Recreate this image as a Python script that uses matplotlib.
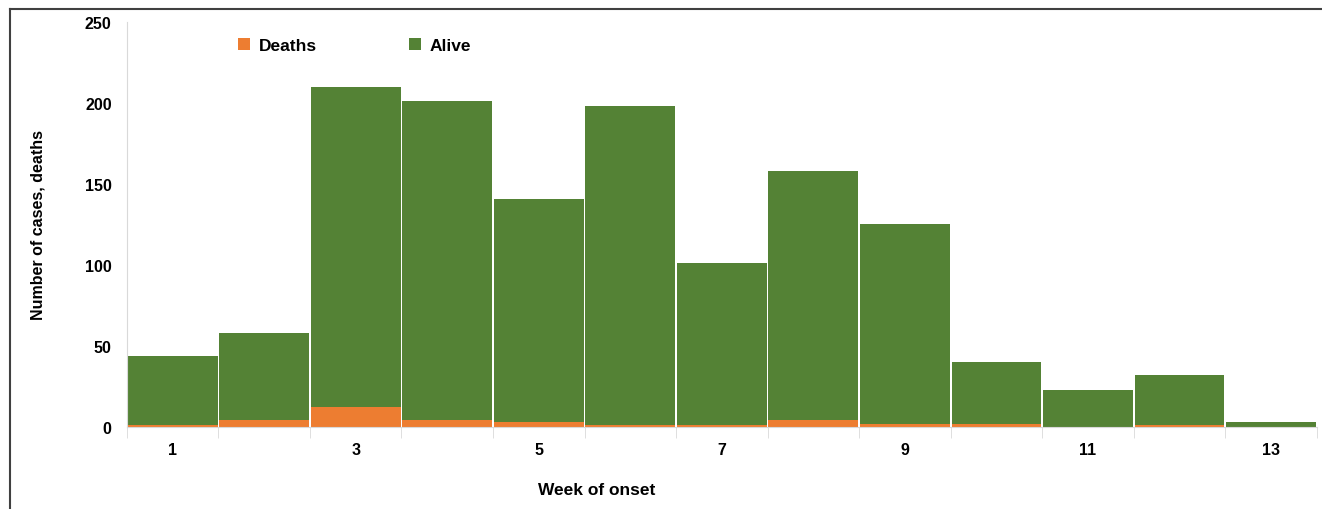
import matplotlib.pyplot as plt
import numpy as np
from matplotlib.lines import Line2D

plt.rcParams['font.family'] = ['Liberation Sans', 'DejaVu Sans']

# Datos por semana
semanas = np.arange(1, 14)
muertes = [1, 4, 12, 4, 3, 1, 1, 4, 2, 2, 0, 1, 0]
total = [44, 58, 210, 201, 141, 198, 101, 158, 125, 40, 23, 32, 3]
vivos = [t - m for t, m in zip(total, muertes)]

naranja = '#ED7D31'
verde = '#548235'

fig = plt.figure(figsize=(13.22, 5.10), dpi=100)
ax = fig.add_axes([0.096, 0.161, 0.9, 0.794])

ax.bar(semanas, muertes, width=0.98, color=naranja, linewidth=0, label='Deaths')
ax.bar(semanas, vivos, bottom=muertes, width=0.98, color=verde, linewidth=0, label='Alive')

ax.set_xlim(0.5, 13.5)
ax.set_ylim(0, 250)
ax.set_yticks(np.arange(0, 251, 50))
ax.set_xticks(np.arange(1, 14, 2))
ax.set_xticks(np.arange(0.5, 13.6, 1), minor=True)
ax.tick_params(axis='both', which='major', length=0, labelsize=11.5, pad=11)
ax.tick_params(axis='x', which='minor', length=8, color='#d9d9d9', direction='out')
for lab in ax.get_xticklabels() + ax.get_yticklabels():
    lab.set_fontweight('bold')

for s in ['top', 'right']:
    ax.spines[s].set_visible(False)
ax.spines['left'].set_color('#d9d9d9')
ax.spines['bottom'].set_color('#d9d9d9')

ax.set_xlabel('Week of onset', fontsize=12.5, fontweight='bold')
ax.xaxis.set_label_coords(0.395, -0.137)
ax.set_ylabel('Number of cases, deaths', fontsize=11.5, fontweight='bold', labelpad=28)

ax.legend(loc='upper left', bbox_to_anchor=(0.08, 1.0), ncol=2, frameon=False,
          handlelength=0.7, handleheight=0.7, handletextpad=0.5, columnspacing=5.3,
          prop={'weight': 'bold', 'size': 12.5})

# marco exterior
fig.add_artist(Line2D([0.0076, 1.0], [0.98, 0.98], color='#404040', lw=1.5, transform=fig.transFigure))
fig.add_artist(Line2D([0.0076, 0.0076], [0.0, 0.98], color='#404040', lw=1.5, transform=fig.transFigure))

plt.savefig('out.png', dpi=100)
